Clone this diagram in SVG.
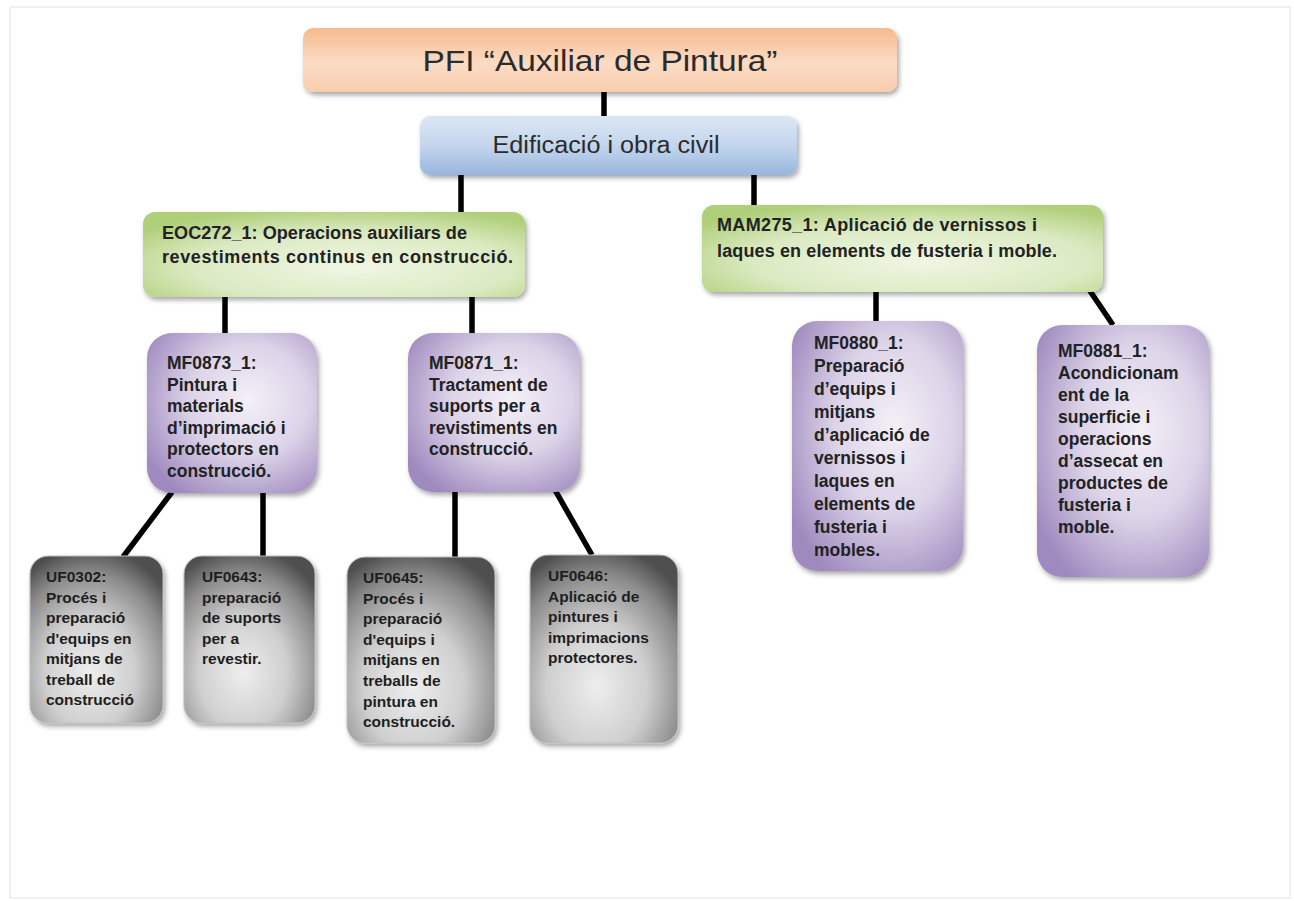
<svg xmlns="http://www.w3.org/2000/svg" width="1294" height="901" viewBox="0 0 1294 901">
<style>
.t1{font-family:"Liberation Sans",Arial,sans-serif;fill:#2b2b2b}
.b{font-family:"Liberation Sans",Arial,sans-serif;font-weight:bold;fill:#222;font-size:18px}
.m{font-family:"Liberation Sans",Arial,sans-serif;font-weight:bold;fill:#222;font-size:17.5px}
.u{font-family:"Liberation Sans",Arial,sans-serif;font-weight:bold;fill:#1e1e1e;font-size:15.5px}
.c{stroke:#000;stroke-width:5.5;fill:none;stroke-linecap:butt}
</style>
<defs>
<filter id="sh" x="-10%" y="-10%" width="125%" height="125%">
<feDropShadow dx="2" dy="3" stdDeviation="2.5" flood-color="#000" flood-opacity="0.35"/>
</filter>
<filter id="bl" x="-50%" y="-1%" width="200%" height="102%"><feGaussianBlur stdDeviation="1"/></filter>
<linearGradient id="gOr" x1="0" y1="0" x2="0" y2="1">
<stop offset="0" stop-color="#f6bb8d"/><stop offset="0.55" stop-color="#fbdbc4"/><stop offset="1" stop-color="#f9cdae"/>
</linearGradient>
<linearGradient id="gBl" x1="0" y1="0" x2="0" y2="1">
<stop offset="0" stop-color="#dce7f5"/><stop offset="0.5" stop-color="#c4d6ed"/><stop offset="1" stop-color="#97b6de"/>
</linearGradient>
<radialGradient id="gGr" cx="0.55" cy="0.65" r="0.7">
<stop offset="0" stop-color="#f0f6e4"/><stop offset="0.6" stop-color="#dbeac2"/><stop offset="1" stop-color="#b0cf7a"/>
</radialGradient>
<radialGradient id="gPu" cx="0.6" cy="0.42" r="0.7">
<stop offset="0" stop-color="#f3f0f7"/><stop offset="0.5" stop-color="#dcd3e8"/><stop offset="1" stop-color="#9f8abf"/>
</radialGradient>
<radialGradient id="gGy" cx="0.45" cy="0.7" r="0.75">
<stop offset="0" stop-color="#eeeeee"/><stop offset="0.45" stop-color="#cfcfcf"/><stop offset="0.8" stop-color="#8a8a8a"/><stop offset="1" stop-color="#505050"/>
</radialGradient>
</defs>

<g id="page">
<rect x="10" y="7" width="1280" height="891" fill="#fff" stroke="#e2e2e2" stroke-width="1"/>
<line x1="10" y1="7" x2="10" y2="898" stroke="#9c9c9c" stroke-width="3" filter="url(#bl)"/>
<line x1="1290" y1="7" x2="1290" y2="898" stroke="#9c9c9c" stroke-width="3" filter="url(#bl)"/>
</g>

<g id="connectors">
<line class="c" x1="604" y1="92" x2="604" y2="117"/>
<line class="c" x1="461" y1="174" x2="461" y2="212"/>
<line class="c" x1="754" y1="174" x2="754" y2="206"/>
<line class="c" x1="225" y1="296" x2="225" y2="334"/>
<line class="c" x1="472" y1="296" x2="472" y2="334"/>
<line class="c" x1="876" y1="291" x2="876" y2="322"/>
<line class="c" x1="1088" y1="288" x2="1113" y2="325"/>
<line class="c" x1="172" y1="492" x2="123" y2="557"/>
<line class="c" x1="263" y1="493" x2="263" y2="556"/>
<line class="c" x1="455" y1="491" x2="455" y2="558"/>
<line class="c" x1="555" y1="490" x2="592" y2="555"/>
</g>

<g id="n-title">
<rect x="303" y="28" width="594" height="64" rx="10" fill="url(#gOr)" filter="url(#sh)"/>
<text class="t1" x="600" y="71" font-size="30" text-anchor="middle" textLength="355" lengthAdjust="spacingAndGlyphs">PFI “Auxiliar de Pintura”</text>
</g>

<g id="n-edif">
<rect x="420" y="116" width="377" height="59" rx="10" fill="url(#gBl)" filter="url(#sh)"/>
<text class="t1" x="606" y="153" font-size="23" text-anchor="middle" textLength="227" lengthAdjust="spacingAndGlyphs">Edificació i obra civil</text>
</g>

<g id="n-eoc">
<rect x="143" y="212" width="382" height="85" rx="12" fill="url(#gGr)" filter="url(#sh)"/>
<text class="b" x="162" y="239" textLength="305" lengthAdjust="spacingAndGlyphs">EOC272_1: Operacions auxiliars de</text>
<text class="b" x="162" y="263" textLength="351" lengthAdjust="spacing">revestiments continus en construcció.</text>
</g>

<g id="n-mam">
<rect x="702" y="205" width="401" height="87" rx="12" fill="url(#gGr)" filter="url(#sh)"/>
<text class="b" x="717" y="231" textLength="320" lengthAdjust="spacing">MAM275_1: Aplicació de vernissos  i</text>
<text class="b" x="717" y="257" textLength="340" lengthAdjust="spacing">laques en elements de fusteria i moble.</text>
</g>

<g id="n-mf0873">
<rect x="147" y="333" width="170" height="160" rx="25" fill="url(#gPu)" filter="url(#sh)"/>
<text class="m" x="167"><tspan x="167" y="369">MF0873_1:</tspan><tspan x="167" y="390.5">Pintura i</tspan><tspan x="167" y="412">materials</tspan><tspan x="167" y="433.5">d’imprimació i</tspan><tspan x="167" y="455">protectors  en</tspan><tspan x="167" y="476.5">construcció.</tspan></text>
</g>

<g id="n-mf0871">
<rect x="408" y="333" width="172" height="159" rx="25" fill="url(#gPu)" filter="url(#sh)"/>
<text class="m" x="429"><tspan x="429" y="369">MF0871_1:</tspan><tspan x="429" y="390.5">Tractament de</tspan><tspan x="429" y="412">suports  per a</tspan><tspan x="429" y="433.5">revistiments  en</tspan><tspan x="429" y="455">construcció.</tspan></text>
</g>

<g id="n-mf0880">
<rect x="792" y="321" width="171" height="250" rx="25" fill="url(#gPu)" filter="url(#sh)"/>
<text class="m" x="814"><tspan x="814" y="349">MF0880_1:</tspan><tspan x="814" y="372">Preparació</tspan><tspan x="814" y="395">d’equips i</tspan><tspan x="814" y="418">mitjans</tspan><tspan x="814" y="441">d’aplicació de</tspan><tspan x="814" y="464">vernissos  i</tspan><tspan x="814" y="487">laques en</tspan><tspan x="814" y="510">elements de</tspan><tspan x="814" y="533">fusteria i</tspan><tspan x="814" y="556">mobles.</tspan></text>
</g>

<g id="n-mf0881">
<rect x="1037" y="325" width="172" height="252" rx="25" fill="url(#gPu)" filter="url(#sh)"/>
<text class="m" x="1058"><tspan x="1058" y="357">MF0881_1:</tspan><tspan x="1058" y="379">Acondicionam</tspan><tspan x="1058" y="401">ent de la</tspan><tspan x="1058" y="423">superficie i</tspan><tspan x="1058" y="445">operacions</tspan><tspan x="1058" y="467">d’assecat  en</tspan><tspan x="1058" y="489">productes  de</tspan><tspan x="1058" y="511">fusteria i</tspan><tspan x="1058" y="533">moble.</tspan></text>
</g>

<g id="n-uf0302">
<rect x="30" y="556" width="133" height="167" rx="18" fill="url(#gGy)" stroke="#bdbdbd" stroke-width="1" filter="url(#sh)"/>
<text class="u" x="46"><tspan x="46" y="582">UF0302:</tspan><tspan x="46" y="602.5">Procés i</tspan><tspan x="46" y="623">preparació</tspan><tspan x="46" y="643.5">d'equips  en</tspan><tspan x="46" y="664">mitjans de</tspan><tspan x="46" y="684.5">treball de</tspan><tspan x="46" y="705">construcció</tspan></text>
</g>

<g id="n-uf0643">
<rect x="184" y="556" width="131" height="167" rx="18" fill="url(#gGy)" stroke="#bdbdbd" stroke-width="1" filter="url(#sh)"/>
<text class="u" x="202"><tspan x="202" y="582">UF0643:</tspan><tspan x="202" y="602.5">preparació</tspan><tspan x="202" y="623">de suports</tspan><tspan x="202" y="643.5">per a</tspan><tspan x="202" y="664">revestir.</tspan></text>
</g>

<g id="n-uf0645">
<rect x="347" y="557" width="148" height="186" rx="18" fill="url(#gGy)" stroke="#bdbdbd" stroke-width="1" filter="url(#sh)"/>
<text class="u" x="363"><tspan x="363" y="583">UF0645:</tspan><tspan x="363" y="603.6">Procés i</tspan><tspan x="363" y="624.2">preparació</tspan><tspan x="363" y="644.8">d'equips  i</tspan><tspan x="363" y="665.4">mitjans en</tspan><tspan x="363" y="686">treballs de</tspan><tspan x="363" y="706.6">pintura en</tspan><tspan x="363" y="727.2">construcció.</tspan></text>
</g>

<g id="n-uf0646">
<rect x="530" y="555" width="148" height="188" rx="18" fill="url(#gGy)" stroke="#bdbdbd" stroke-width="1" filter="url(#sh)"/>
<text class="u" x="548"><tspan x="548" y="581">UF0646:</tspan><tspan x="548" y="601.5">Aplicació de</tspan><tspan x="548" y="622">pintures i</tspan><tspan x="548" y="642.5">imprimacions</tspan><tspan x="548" y="663">protectores.</tspan></text>
</g>
</svg>
